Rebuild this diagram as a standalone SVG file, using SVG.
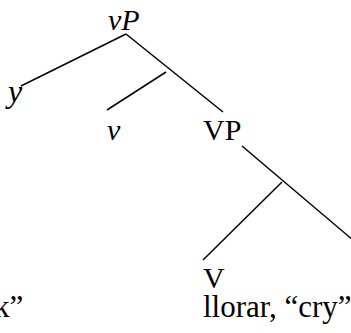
<svg xmlns="http://www.w3.org/2000/svg" width="351" height="333" viewBox="0 0 351 333">
<style>
text{font-family:"Liberation Serif","Times New Roman",serif;font-size:30px;fill:#000}
.i{font-style:italic}
.g{font-size:31px}
line{stroke:#000;stroke-width:1.5;stroke-linecap:butt}
</style>
<rect width="351" height="333" fill="#fff"/>
<g id="connectors">
<line x1="126" y1="34" x2="21" y2="86"/>
<line x1="126" y1="34" x2="223" y2="112"/>
<line x1="166" y1="72" x2="107" y2="110"/>
<line x1="242" y1="146" x2="360" y2="246"/>
<line x1="282" y1="182" x2="203" y2="260"/>
</g>
<g id="node-vP"><text class="i" x="108" y="30">vP</text></g>
<g id="node-y"><text class="i" x="8" y="102" style="font-size:32px">y</text></g>
<g id="node-v"><text class="i" x="107" y="140">v</text></g>
<g id="node-VP"><text x="203" y="140">VP</text></g>
<g id="node-V"><text x="203" y="288">V</text></g>
<g id="gloss-right"><text class="g" x="203" y="317">llorar, “cry”</text></g>
<g id="gloss-left"><text class="g" x="-6" y="317">k”</text></g>
</svg>
